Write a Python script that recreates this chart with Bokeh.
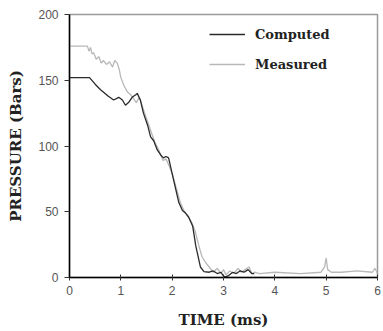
from bokeh.plotting import figure
from bokeh.models import Legend, LegendItem, FixedTicker, Range1d
from bokeh.embed import file_html
from bokeh.resources import INLINE

# Computed pressure (Bars) vs time (ms)
comp_t = [0.0, 0.39, 0.5, 0.6, 0.75, 0.86, 0.96, 1.03, 1.09, 1.15, 1.22, 1.29, 1.32, 1.38, 1.44, 1.52, 1.58, 1.64, 1.71, 1.78, 1.83, 1.88, 1.93, 2.0, 2.07, 2.13, 2.2, 2.26, 2.32, 2.4, 2.46, 2.55, 2.62, 2.72, 2.8, 2.88, 2.95, 3.0, 3.04, 3.1, 3.18, 3.25, 3.32, 3.4, 3.48, 3.55, 3.6]
comp_p = [152, 152, 147, 143, 138, 135, 137, 135, 131, 133, 137, 139, 140, 135, 125, 116, 107, 104, 97, 93, 91, 92, 91, 79, 67, 57, 51, 49, 46, 39, 24, 8, 4.5, 4, 5, 3, 4, 1, 0.5, 1.5, 4, 3, 5, 4, 6, 3, 3]

# Measured pressure (Bars) vs time (ms)
meas_t = [0.0, 0.35, 0.38, 0.41, 0.44, 0.47, 0.52, 0.57, 0.62, 0.66, 0.72, 0.78, 0.84, 0.88, 0.93, 0.97, 1.0, 1.06, 1.13, 1.19, 1.25, 1.3, 1.36, 1.42, 1.5, 1.58, 1.66, 1.74, 1.82, 1.88, 1.94, 2.0, 2.08, 2.16, 2.24, 2.3, 2.38, 2.45, 2.52, 2.58, 2.64, 2.72, 2.8, 2.88, 2.95, 3.0, 3.05, 3.12, 3.2, 3.28, 3.35, 3.42, 3.5, 3.55, 3.6, 3.7, 4.0, 4.5, 4.9, 4.97, 5.0, 5.03, 5.1, 5.3, 5.6, 5.9, 5.95, 6.0]
meas_p = [176, 176, 172, 175, 170, 171, 166, 168, 163, 165, 162, 164, 160, 165, 163, 158, 152, 146, 141, 139, 136, 133, 137, 130, 121, 112, 103, 97, 89, 90, 85, 79, 68, 57, 50, 47, 42, 35, 24, 16, 12, 8, 4, 7, 3, 6, 2, 5, 3, 7, 4, 6, 8, 3, 4, 3, 4, 3, 4, 8, 15, 6, 4, 4, 5, 4, 7, 3]

x_ticks = [0, 1, 2, 3, 4, 5, 6]
y_ticks = [0, 50, 100, 150, 200]

assert len(comp_t) == len(comp_p)
assert len(meas_t) == len(meas_p)

p = figure(width=383, height=331, output_backend="svg", toolbar_location=None,
           x_range=Range1d(0, 6), y_range=Range1d(0, 200),
           min_border_left=69, min_border_right=6, min_border_top=14, min_border_bottom=53)

p.xgrid.visible = False
p.ygrid.visible = False
p.outline_line_color = "#9a9a9a"
p.outline_line_width = 1.5
p.background_fill_color = "white"
p.border_fill_color = "white"

r_meas = p.line(meas_t, meas_p, line_color="#b8b8b8", line_width=1.3)
r_comp = p.line(comp_t, comp_p, line_color="#2a2a2a", line_width=1.3)

for ax in (p.xaxis[0], p.yaxis[0]):
    ax.axis_line_color = "black"
    ax.axis_line_width = 1.5
    ax.major_tick_line_color = "#333333"
    ax.minor_tick_line_color = None
    ax.major_label_text_font = "Liberation Sans"
    ax.major_label_text_font_size = "12px"
    ax.major_label_text_color = "#555555"
    ax.axis_label_text_font = "DejaVu Serif"
    ax.axis_label_text_font_style = "bold"
    ax.axis_label_text_font_size = "15px"
    ax.axis_label_text_color = "#222222"

p.xaxis.ticker = FixedTicker(ticks=x_ticks)
p.yaxis.ticker = FixedTicker(ticks=y_ticks)
p.xaxis.major_tick_in = 3
p.xaxis.major_tick_out = 3
p.yaxis.major_tick_in = 0
p.yaxis.major_tick_out = 5
p.xaxis.major_label_standoff = 5
p.yaxis.major_label_standoff = 6
p.xaxis.axis_label = "TIME (ms)"
p.yaxis.axis_label = "PRESSURE (Bars)"
p.xaxis.axis_label_standoff = 13
p.yaxis.axis_label_standoff = 10

legend = Legend(items=[LegendItem(label="Computed", renderers=[r_comp]),
                       LegendItem(label="Measured", renderers=[r_meas])],
                location=(140, 203), padding=0, margin=0,
                border_line_color=None, background_fill_alpha=0,
                glyph_width=36, glyph_height=20, spacing=10, label_standoff=10,
                label_text_font="DejaVu Serif", label_text_font_style="bold",
                label_text_font_size="13px", label_text_color="#222222")
p.add_layout(legend)

open("out.html", "w").write(file_html(p, INLINE))
